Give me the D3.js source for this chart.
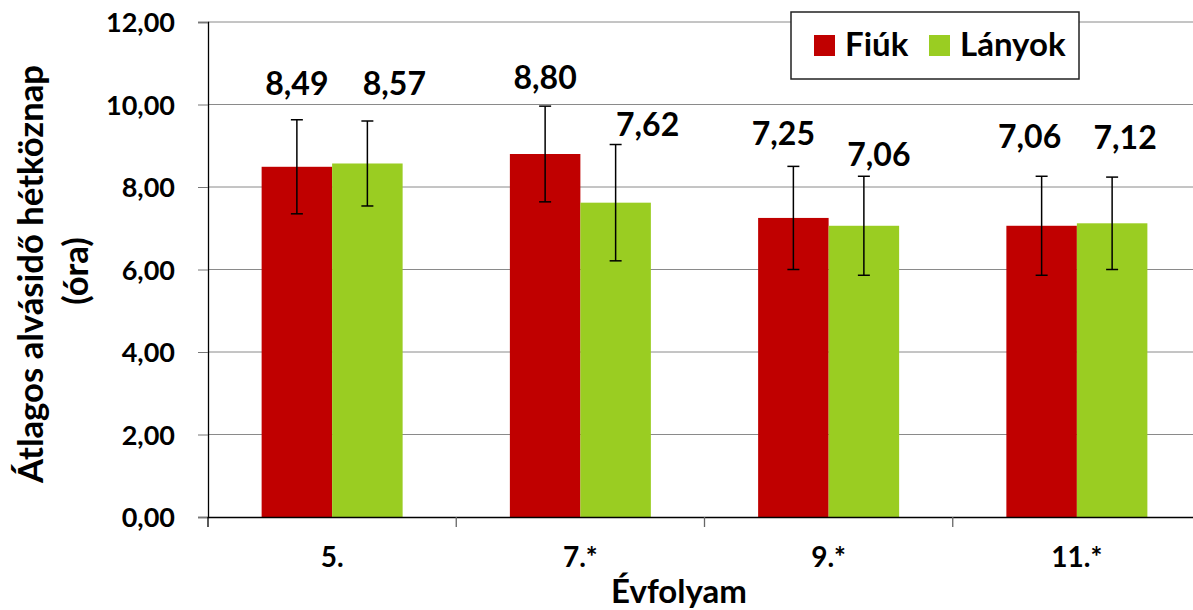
<!DOCTYPE html>
<html><head><meta charset="utf-8">
<script src="https://cdn.jsdelivr.net/npm/d3@7"></script>
<style>
body{margin:0;background:#fff}
svg{display:block}
text{font-family:Lato,'Open Sans',sans-serif;font-weight:700;fill:#000}
</style>
</head><body>
<svg id="c" width="1193" height="610"></svg>
<script>
// ---- data ----
const categories = ["5.", "7.*", "9.*", "11.*"];
const seriesNames = ["Fiúk", "Lányok"];
const fiuk = [8.49, 8.80, 7.25, 7.06];
const lanyok = [8.57, 7.62, 7.06, 7.12];
const fiukSD = [1.14, 1.16, 1.25, 1.20];
const lanyokSD = [1.03, 1.41, 1.20, 1.12];
const yTicks = [0, 2, 4, 6, 8, 10, 12];
const yTitle = ["Átlagos alvásidő hétköznap", "(óra)"];
const xTitle = "Évfolyam";

// ---- layout / style ----
const colors = ["#C00000", "#9ACD22"];
const labelNudge = [
  [[0, -25], [0, -17], [-10, -21], [-12, -28]],
  [[27, -26], [32, -9], [15, -10], [13, -28]]
];
const svg = d3.select("#c");
const L = 208, R = 1201, T = 22, B = 517;
const fmt = v => d3.format(".2f")(v).replace(".", ",");

const x = d3.scaleBand().domain(categories).range([L, R]).padding(0);
const groupW = 141;
const xi = d3.scaleBand().domain(seriesNames).range([0, groupW]).padding(0);
const y = d3.scaleLinear().domain([0, 12]).range([B, T]);

// gridlines
svg.append("g").selectAll("line").data(yTicks.filter(d => d > 0)).join("line")
  .attr("x1", L).attr("x2", R).attr("y1", d => y(d)).attr("y2", d => y(d))
  .attr("stroke", "#8a8a8a").attr("stroke-width", 1);

// y axis
const yAxis = svg.append("g").attr("transform", `translate(${L},0)`)
  .call(d3.axisLeft(y).tickValues(yTicks).tickFormat(fmt).tickSize(10).tickPadding(23));
yAxis.select(".domain").attr("stroke", "#000").attr("stroke-width", 1.3);
yAxis.selectAll(".tick line").attr("stroke", "#777");
yAxis.selectAll(".tick text").style("font-size", "27px").attr("font-family", null).attr("dy", "0.36em");

// bars
const series = [fiuk, lanyok];
const sds = [fiukSD, lanyokSD];
const groups = svg.append("g");
series.forEach((vals, si) => {
  groups.append("g").selectAll("rect").data(vals).join("rect")
    .attr("x", (d, i) => x(categories[i]) + x.bandwidth() / 2 - groupW / 2 + xi(seriesNames[si]))
    .attr("width", xi.bandwidth())
    .attr("y", d => y(d))
    .attr("height", d => y(0) - y(d))
    .attr("fill", colors[si]);
});

// x axis
const xAxis = svg.append("g").attr("transform", `translate(0,${B})`)
  .call(d3.axisBottom(x).tickSize(0).tickPadding(30));
xAxis.select(".domain").attr("stroke", "#000").attr("stroke-width", 1.3);
xAxis.selectAll(".tick text").style("font-size", "28px").attr("font-family", null);
// category boundary ticks
svg.append("g").selectAll("line").data(d3.range(categories.length + 1)).join("line")
  .attr("x1", i => L + i * x.bandwidth()).attr("x2", i => L + i * x.bandwidth())
  .attr("y1", B).attr("y2", B + 10).attr("stroke", i => i === 0 ? "#000" : "#666").attr("stroke-width", 1.3);

// error bars + labels
series.forEach((vals, si) => {
  vals.forEach((v, i) => {
    const cx = x(categories[i]) + x.bandwidth() / 2 - groupW / 2 + xi(seriesNames[si]) + xi.bandwidth() / 2;
    const sd = sds[si][i];
    const top = y(v + sd), bot = y(v - sd);
    const g = svg.append("g").attr("stroke", "#000").attr("stroke-width", 1.5);
    g.append("line").attr("x1", cx).attr("x2", cx).attr("y1", top).attr("y2", bot);
    g.append("line").attr("x1", cx - 6).attr("x2", cx + 6).attr("y1", top).attr("y2", top);
    g.append("line").attr("x1", cx - 6).attr("x2", cx + 6).attr("y1", bot).attr("y2", bot);
    const n = labelNudge[si][i];
    svg.append("text").attr("x", cx + n[0]).attr("y", top + n[1])
      .attr("text-anchor", "middle").style("font-size", "32px").text(fmt(v));
  });
});

// axis titles
const yt = svg.append("text").attr("transform", "translate(43,274) rotate(-90)")
  .attr("text-anchor", "middle").style("font-size", "32px").text(yTitle[0]);
const w0 = yt.node().getComputedTextLength();
yt.style("font-size", (32 * 418 / w0).toFixed(2) + "px");
svg.append("text").attr("transform", "translate(88,271) rotate(-90)")
  .attr("text-anchor", "middle").style("font-size", (32 * 418 / w0).toFixed(2) + "px").text(yTitle[1]);
svg.append("text").attr("x", 679).attr("y", 603).attr("text-anchor", "middle")
  .style("font-size", "33px").text(xTitle);

// legend
const lg = svg.append("g");
lg.append("rect").attr("x", 791).attr("y", 12).attr("width", 288).attr("height", 67)
  .attr("fill", "#fff").attr("stroke", "#222").attr("stroke-width", 1.5);
const legX = [814, 929];
seriesNames.forEach((s, si) => {
  lg.append("rect").attr("x", legX[si]).attr("y", 35).attr("width", 21).attr("height", 21).attr("fill", colors[si]);
  lg.append("text").attr("x", legX[si] + 31).attr("y", 56).style("font-size", "33px").text(s);
});
</script>
</body></html>
